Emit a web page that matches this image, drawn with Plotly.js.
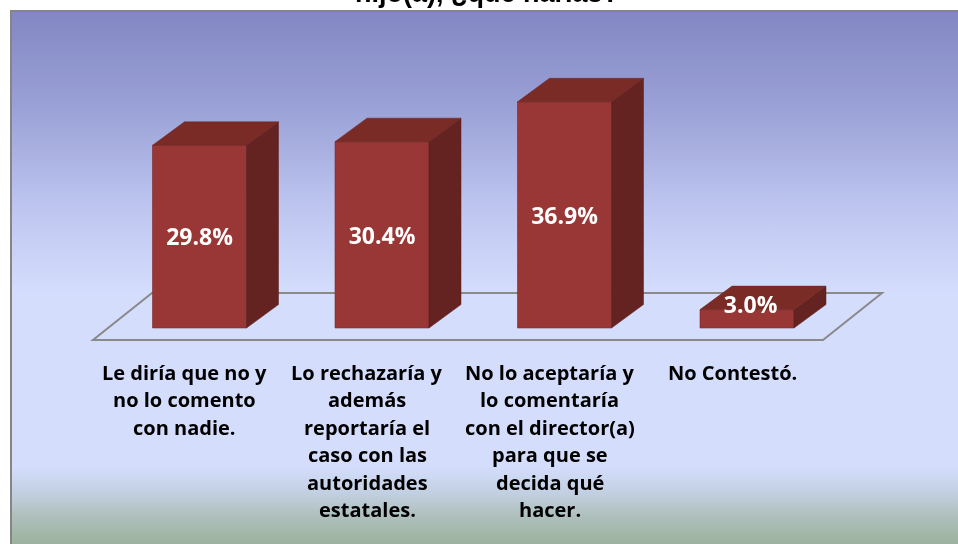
<!DOCTYPE html>
<html>
<head>
<meta charset="utf-8">
<script src="https://cdn.plot.ly/plotly-3.0.1.min.js"></script>
<style>
  html, body { margin:0; padding:0; background:#ffffff; overflow:hidden; }
  #frame { position:fixed; left:10px; top:10px; right:-40px; bottom:-40px;
    border:2px solid #858585; box-sizing:border-box;
    background: linear-gradient(to bottom,
      #8387c3 0px, #9aa1d6 95px, #bfc7f1 200px, #d4ddfc 280px,
      #d4ddfc 455px, #c3d0e2 480px, #aebfbb 505px, #9bb19b 534px, #9bb19b 600px); }
  #chart { position:absolute; left:0; top:0; width:958px; height:544px; }
</style>
</head>
<body>
<div id="frame"></div>
<div id="chart"></div>
<script>
// ---- data ----
const categories = [
  ["Le diría que no y", "no lo comento", "con nadie."],
  ["Lo rechazaría y", "además", "reportaría el", "caso con las", "autoridades", "estatales."],
  ["No lo aceptaría y", "lo comentaría", "con el director(a)", "para que se", "decida qué", "hacer."],
  ["No Contestó."]
];
const values = [29.8, 30.4, 36.9, 3.0];
const valueLabels = ["29.8%", "30.4%", "36.9%", "3.0%"];
const titleText = "hijo(a), ¿qué harías?";

// ---- geometry (pixel layout converted to axis units) ----
const W = 958, H = 544;
const pxPerCat = 182.5, x0px = 199.5;      // centre of first bar front face
const pxPerPct = 6.13, y0px = 328;         // baseline of bars
const xr = [(0 - x0px) / pxPerCat, (W - x0px) / pxPerCat];
const yr = [(y0px - H) / pxPerPct, (y0px - 0) / pxPerPct];
const toX = px => (px - x0px) / pxPerCat;
const toY = py => (y0px - py) / pxPerPct;

const barW = 94 / pxPerCat;
const dX = 32 / pxPerCat, dY = 23.5 / pxPerPct;

const frontColor = "#993737", topColor = "#7a2b25", sideColor = "#642220";

const traces = [];
// front faces
traces.push({
  type: "bar", x: values.map((v, i) => i), y: values, width: barW,
  marker: { color: frontColor, line: { color: "#7c2c2c", width: 0.6 } },
  hoverinfo: "skip", showlegend: false
});
// side and top faces
values.forEach((v, i) => {
  const l = i - barW / 2, r = i + barW / 2;
  traces.push({
    type: "scatter", mode: "lines", fill: "toself", fillcolor: sideColor,
    line: { width: 0.5, color: "#5a1d1b" },
    x: [r, r + dX, r + dX, r, r], y: [0, dY, v + dY, v, 0],
    hoverinfo: "skip", showlegend: false
  });
  traces.push({
    type: "scatter", mode: "lines", fill: "toself", fillcolor: topColor,
    line: { width: 0.5, color: "#6a2520" },
    x: [l, l + dX, r + dX, r, l], y: [v, v + dY, v + dY, v, v],
    hoverinfo: "skip", showlegend: false
  });
});
// value labels: centred in tall bars, on the top face of short ones
traces.push({
  type: "scatter", mode: "text",
  x: values.map((v, i) => i + (v < 10 ? 0.02 : 0)),
  y: values.map(v => v >= 10 ? v / 2 - 0.5 : v + 0.1 * dY),
  text: valueLabels,
  textfont: { family: "Open Sans, sans-serif", size: 23, color: "#ffffff", weight: "bold" },
  hoverinfo: "skip", showlegend: false
});

// floor parallelogram
const fx0 = toX(93), fx1 = toX(823), fy = toY(340);
const fdx = 59 / pxPerCat, fdy = 47 / pxPerPct;
const shapes = [{
  type: "path", xref: "x", yref: "y", layer: "below",
  path: `M ${fx0},${fy} L ${fx1},${fy} L ${fx1 + fdx},${fy + fdy} L ${fx0 + fdx},${fy + fdy} Z`,
  line: { color: "#8a8a8a", width: 2 }, fillcolor: "rgba(0,0,0,0)"
}];

// category labels: one annotation per line
const annotations = [];
const lineStep = 27.5, firstCenter = 372;
categories.forEach((lines, i) => {
  lines.forEach((t, k) => {
    annotations.push({
      xref: "x", yref: "y", x: i - 15 / pxPerCat, y: toY(firstCenter + k * lineStep),
      text: "<b>" + t + "</b>", showarrow: false, xanchor: "center", yanchor: "middle",
      font: { family: "Open Sans, sans-serif", size: 20, color: "#000000" }
    });
  });
});
// title (cut off at top, as in the source)
annotations.push({
  xref: "paper", yref: "paper", x: 487 / W, y: 1 + 7 / H,
  text: "<b>" + titleText + "</b>", showarrow: false, xanchor: "center", yanchor: "middle",
  font: { family: "Liberation Sans, Arial, sans-serif", size: 27, color: "#000000" }
});

const layout = {
  width: W, height: H,
  margin: { l: 0, r: 0, t: 0, b: 0, pad: 0 },
  paper_bgcolor: "rgba(0,0,0,0)", plot_bgcolor: "rgba(0,0,0,0)",
  xaxis: { range: xr, visible: false, fixedrange: true },
  yaxis: { range: yr, visible: false, fixedrange: true },
  showlegend: false, shapes, annotations, dragmode: false
};
Plotly.newPlot("chart", traces, layout, { displayModeBar: false, staticPlot: true });
</script>
</body>
</html>
